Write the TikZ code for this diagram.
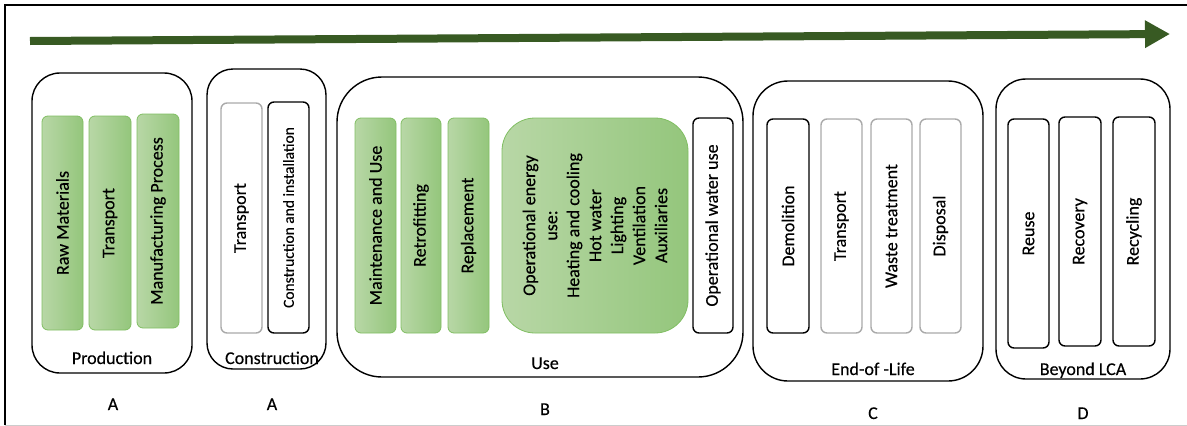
\documentclass[tikz,border=0pt]{standalone}
\usepackage{fontspec}
\setmainfont[FakeBold=0.3]{Carlito}
\usetikzlibrary{arrows.meta}
\definecolor{arrowgreen}{RGB}{56,90,35}
\definecolor{gl}{RGB}{184,215,166}
\definecolor{gr}{RGB}{148,198,124}
\definecolor{gborder}{RGB}{128,190,98}
\definecolor{lgray}{RGB}{170,170,170}
\tikzset{
  gbar/.style={draw=gborder, line width=0.8pt, rectangle, rounded corners=6pt, left color=gl, right color=gr},
  bbar/.style={draw=black, line width=1.4pt, rectangle, rounded corners=6pt, fill=white},
  graybar/.style={draw=lgray, line width=1.4pt, rectangle, rounded corners=6pt, fill=white},
  phasebox/.style={draw=black, line width=1.4pt, rectangle, minimum height=300},
  vtext/.style={rotate=90, inner sep=0pt, font=\fontsize{18}{22}\selectfont},
  lab/.style={anchor=base, inner sep=0pt, font=\fontsize{18}{21}\selectfont},
}
\begin{document}
\begin{tikzpicture}[x=1pt,y=-1pt]
\useasboundingbox (0,0) rectangle (1187,426);
% outer frame
\draw[black, line width=2pt] (4.5,425) -- (4.5,5) -- (1187,5);
\draw[lgray!60, line width=1pt] (4.5,425) -- (1187,425);
% arrow
\coordinate (aS) at (30,41);
\coordinate (aE) at (1170,34);
\draw[arrowgreen, line width=8pt, -{Triangle[length=25pt,width=26pt]}] (aS) -- (aE);

% ---- Production
\node[phasebox, rounded corners=28pt, minimum width=160] (prod) at (112,223) {};
\node[gbar, minimum width=41, minimum height=214] (p1) at (62.5,223) {};
\node[gbar, minimum width=42, minimum height=214] (p2) at (110,223) {};
\node[gbar, minimum width=42, minimum height=214] (p3) at (158,221) {};
\node[vtext] (p1t) at (p1) {Raw Materials};
\node[vtext] (p2t) at (p2) {Transport};
\node[vtext] (p3t) at (p3) {Manufacturing Process};
\node[lab] (prodl) at (112,364) {Production};
\node[lab] (la1) at (113,410) {A};

% ---- Construction
\node[phasebox, rounded corners=26pt, minimum width=119] (cons) at (266.5,219) {};
\node[graybar, minimum width=41, minimum height=230] (c1) at (241.5,218) {};
\node[bbar, minimum width=41, minimum height=231] (c2) at (288.5,217.5) {};
\node[vtext] (c1t) at (c1) {Transport};
\node[vtext, font=\fontsize{15.5}{19}\selectfont] (c2t) at (c2) {Construction and installation};
\node[lab] (consl) at (272,364) {Construction};
\node[lab] (la2) at (272,410) {A};

% ---- Use
\node[phasebox, rounded corners=45pt, minimum width=406] (use) at (540,227) {};
\node[gbar, minimum width=41, minimum height=215] (u1) at (375.5,225.5) {};
\node[gbar, minimum width=40, minimum height=215] (u2) at (421,225.5) {};
\node[gbar, minimum width=41, minimum height=215] (u3) at (468.5,225.5) {};
\node[gbar, rounded corners=33pt, minimum width=186, minimum height=215] (u4) at (595,225.5) {};
\node[bbar, minimum width=40, minimum height=215] (u5) at (713,225.5) {};
\node[vtext] (u1t) at (u1) {Maintenance and Use};
\node[vtext] (u2t) at (u2) {Retrofitting};
\node[vtext] (u3t) at (u3) {Replacement};
\node[vtext, align=center] (u4t) at (u4) {Operational energy\\use:\\Heating and cooling\\Hot water\\Lighting\\Ventilation\\Auxiliaries};
\node[vtext] (u5t) at (u5) {Operational water use};
\node[lab] (usel) at (545,369) {Use};
\node[lab] (lb) at (545,415) {B};

% ---- End-of-Life
\node[phasebox, rounded corners=35pt, minimum width=230] (eol) at (868,231) {};
\node[bbar, minimum width=42, minimum height=214] (e1) at (788,226) {};
\node[graybar, minimum width=41, minimum height=214] (e2) at (841.5,226) {};
\node[graybar, minimum width=41, minimum height=214] (e3) at (891.5,226) {};
\node[graybar, minimum width=41, minimum height=214] (e4) at (940.5,226) {};
\node[vtext] (e1t) at (e1) {Demolition};
\node[vtext] (e2t) at (e2) {Transport};
\node[vtext] (e3t) at (e3) {Waste treatment};
\node[vtext] (e4t) at (e4) {Disposal};
\node[lab] (eoll) at (873,375) {End-of -Life};
\node[lab] (lc) at (873,419) {C};

% ---- Beyond LCA
\node[phasebox, rounded corners=30pt, minimum width=174] (bey) at (1083,229) {};
\node[bbar, minimum width=41, minimum height=229] (d1) at (1028.5,233.5) {};
\node[bbar, minimum width=42, minimum height=229] (d2) at (1080,231.5) {};
\node[bbar, minimum width=42, minimum height=229] (d3) at (1134,231.5) {};
\node[vtext] (d1t) at (d1) {Reuse};
\node[vtext] (d2t) at (d2) {Recovery};
\node[vtext] (d3t) at (d3) {Recycling};
\node[lab] (beyl) at (1083,375) {Beyond LCA};
\node[lab] (ld) at (1083,419) {D};
\end{tikzpicture}
\end{document}
